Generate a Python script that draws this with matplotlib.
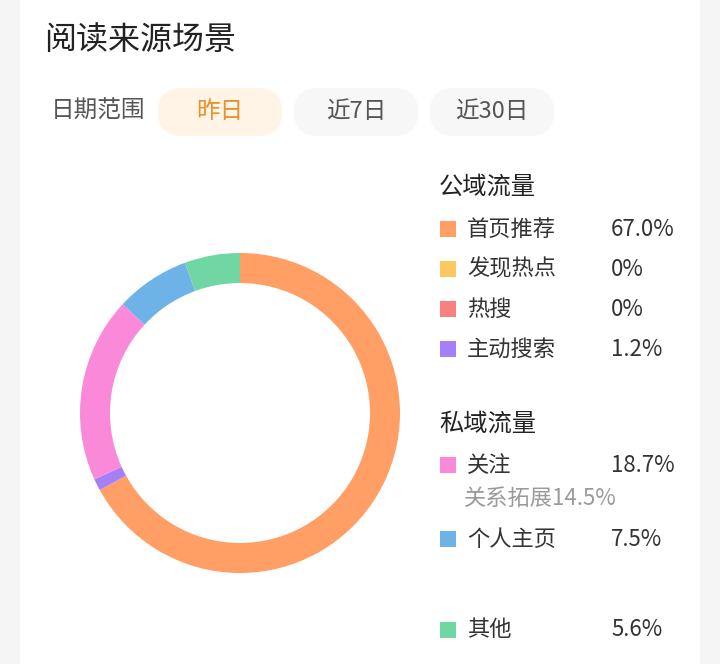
import matplotlib
matplotlib.use("Agg")
import matplotlib.pyplot as plt
from matplotlib.patches import FancyBboxPatch, Rectangle

plt.rcParams['font.family'] = ['Noto Sans CJK SC', 'DejaVu Sans']

title = "阅读来源场景"
date_label = "日期范围"
date_options = ["昨日", "近7日", "近30日"]

# donut order (clockwise from top)
ring_labels = ["首页推荐", "主动搜索", "关注", "个人主页", "其他"]
ring_values = [67.0, 1.2, 18.7, 7.5, 5.6]
ring_colors = ["#ff9e65", "#a57ff6", "#fa89da", "#6db3e8", "#70d6a3"]

public_title = "公域流量"
public_labels = ["首页推荐", "发现热点", "热搜", "主动搜索"]
public_values = ["67.0%", "0%", "0%", "1.2%"]
public_colors = ["#ff9e65", "#fcc95c", "#f98080", "#a57ff6"]

private_title = "私域流量"
private_labels = ["关注", "个人主页"]
private_values = ["18.7%", "7.5%"]
private_colors = ["#fa89da", "#6db3e8"]
follow_sub = "关系拓展14.5%"

other_label = "其他"
other_value = "5.6%"
other_color = "#70d6a3"

W, H = 720, 664
fig = plt.figure(figsize=(W / 100, H / 100), dpi=100)
fig.patch.set_facecolor("#f5f5f5")

bg = fig.add_axes([0, 0, 1, 1])
bg.set_xlim(0, W)
bg.set_ylim(H, 0)
bg.axis("off")

# card
bg.add_patch(FancyBboxPatch((20, -30), 680, 720, boxstyle="round,pad=0,rounding_size=16",
                            fc="white", ec="none"))

bg.text(44, 40, title, fontsize=23, color="#222222", va="center", ha="left", weight="medium")
bg.text(51, 111, date_label, fontsize=17, color="#555555", va="center", ha="left")

pill_x = [158, 294, 430]
pill_w = 124
pill_fc = ["#fff4e6", "#f7f7f7", "#f7f7f7"]
pill_tc = ["#e8902c", "#555555", "#555555"]
for x0, lab, fc, tc in zip(pill_x, date_options, pill_fc, pill_tc):
    bg.add_patch(FancyBboxPatch((x0, 88), pill_w, 48, boxstyle="round,pad=0,rounding_size=24",
                                fc=fc, ec="none"))
    bg.text(x0 + pill_w / 2, 112, lab, fontsize=17, color=tc, va="center", ha="center")

# legend
def row(y, color, label, value):
    bg.add_patch(Rectangle((440, y - 8), 16, 16, fc=color, ec="none"))
    bg.text(467, y, label, fontsize=16, color="#333333", va="center", ha="left")
    bg.text(611, y, value, fontsize=16, color="#333333", va="center", ha="left")

bg.text(439, 187, public_title, fontsize=17.5, color="#222222", va="center", ha="left", weight="medium")
for y, c, l, v in zip([229, 269, 309, 349], public_colors, public_labels, public_values):
    row(y, c, l, v)

bg.text(439, 424, private_title, fontsize=17.5, color="#222222", va="center", ha="left", weight="medium")
for y, c, l, v in zip([465, 539], private_colors, private_labels, private_values):
    row(y, c, l, v)
bg.text(464, 498, follow_sub, fontsize=16, color="#9a9a9a", va="center", ha="left")
row(630, other_color, other_label, other_value)

# donut
cx, cy, R = 240, 413, 160
ax = fig.add_axes([(cx - R) / W, 1 - (cy + R) / H, 2 * R / W, 2 * R / H])
ax.pie(ring_values, colors=ring_colors, startangle=90, counterclock=False,
       wedgeprops=dict(width=30 / R, edgecolor="none"), radius=1)
ax.set_xlim(-1, 1)
ax.set_ylim(-1, 1)
ax.set_aspect("equal")
ax.axis("off")

fig.savefig("out.png", dpi=100, facecolor=fig.get_facecolor())
